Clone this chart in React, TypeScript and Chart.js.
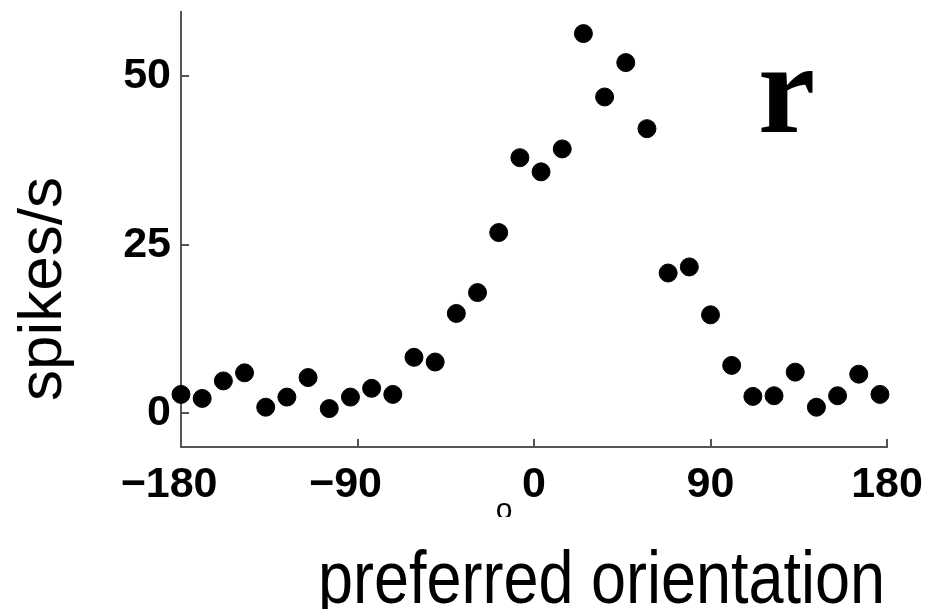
import React, { useEffect, useRef } from "react";
import { Chart, registerables } from "chart.js";

Chart.register(...registerables);

// ---- data ----
const orientations = [
  -180, -169.2, -158.4, -147.6, -136.8, -126, -115.2, -104.4, -93.6, -82.8,
  -72, -61.2, -50.4, -39.6, -28.8, -18, -7.2, 3.6, 14.4, 25.2,
  36, 46.8, 57.6, 68.4, 79.2, 90, 100.8, 111.6, 122.4, 133.2,
  144, 154.8, 165.6, 176.4,
];
const rates = [
  2.8, 2.2, 4.8, 6.0, 0.9, 2.4, 5.3, 0.7, 2.4, 3.7,
  2.8, 8.3, 7.6, 14.8, 17.9, 26.8, 37.9, 35.8, 39.2, 56.3,
  46.9, 52.0, 42.2, 20.8, 21.7, 14.6, 7.1, 2.5, 2.6, 6.1,
  0.9, 2.6, 5.8, 2.8,
];
const xTickValues = [-180, -90, 0, 90, 180];
const xTickLabels = ["\u2212180  ", "\u221290  ", "0", "90", "180"];
const yTickValues = [0, 25, 50];
const yTickLabels = ["0", "25", "50"];
const xTitle = "preferred orientation";
const yTitle = "spikes/s";
const panelLetter = "r";
const degreeMark = "o";

const AXIS_COLOR = "#555555";

const decorPlugin = {
  id: "decor",
  beforeDatasetsDraw(chart: any) {
    const { ctx, chartArea, scales } = chart;
    const x = scales.x;
    const y = scales.y;
    ctx.save();
    ctx.strokeStyle = AXIS_COLOR;
    ctx.lineWidth = 2;
    ctx.beginPath();
    xTickValues.forEach((v) => {
      const px = Math.round(x.getPixelForValue(v));
      ctx.moveTo(px, chartArea.bottom);
      ctx.lineTo(px, chartArea.bottom - 8);
    });
    yTickValues.forEach((v) => {
      const py = Math.round(y.getPixelForValue(v));
      ctx.moveTo(chartArea.left, py);
      ctx.lineTo(chartArea.left + 8, py);
    });
    ctx.stroke();
    ctx.restore();
  },
  afterDraw(chart: any) {
    const { ctx } = chart;
    ctx.save();
    ctx.fillStyle = "#000";

    // x title (condensed)
    ctx.font = "75px 'Liberation Sans', Arial, sans-serif";
    ctx.textBaseline = "alphabetic";
    ctx.textAlign = "left";
    const w = ctx.measureText(xTitle).width;
    const targetW = 567;
    ctx.save();
    ctx.translate(318, 603);
    ctx.scale(targetW / w, 1);
    ctx.fillText(xTitle, 0, 0);
    ctx.restore();

    // y title
    ctx.save();
    ctx.font = "62px 'Liberation Sans', Arial, sans-serif";
    ctx.translate(61, 289);
    ctx.rotate(-Math.PI / 2);
    ctx.textAlign = "center";
    ctx.textBaseline = "alphabetic";
    ctx.fillText(yTitle, 0, 0);
    ctx.restore();

    // panel letter
    ctx.font = "bold 129px 'Liberation Serif', 'Times New Roman', serif";
    ctx.textAlign = "left";
    ctx.textBaseline = "alphabetic";
    ctx.fillText(panelLetter, 758, 132);

    // degree mark (clipped)
    ctx.save();
    ctx.beginPath();
    ctx.rect(480, 490, 60, 27);
    ctx.clip();
    ctx.font = "30px 'Liberation Sans', Arial, sans-serif";
    ctx.textAlign = "center";
    ctx.fillText(degreeMark, 504, 519);
    ctx.restore();

    ctx.restore();
  },
};

export default function App() {
  const canvasRef = useRef<HTMLCanvasElement | null>(null);

  useEffect(() => {
    const canvas = canvasRef.current;
    if (!canvas) return;
    const tickFont = { family: "'Liberation Sans', Arial, sans-serif", size: 43, weight: "bold" as const };
    const chart = new Chart(canvas, {
      type: "scatter",
      data: {
        datasets: [
          {
            data: orientations.map((o, i) => ({ x: o, y: rates[i] })),
            backgroundColor: "#000",
            borderColor: "#000",
            pointRadius: 9,
            pointHoverRadius: 9,
            clip: false as any,
          },
        ],
      },
      options: {
        responsive: false,
        animation: false,
        devicePixelRatio: 1,
        layout: { padding: { top: 12, right: 48, left: 0, bottom: 0 } },
        plugins: {
          legend: { display: false },
          tooltip: { enabled: false },
          title: { display: false },
        },
        scales: {
          x: {
            type: "linear",
            min: -180,
            max: 180,
            afterBuildTicks: (scale: any) => {
              scale.ticks = xTickValues.map((v) => ({ value: v }));
            },
            afterFit: (scale: any) => {
              scale.height = 162;
              scale.paddingLeft = 0;
              scale.paddingRight = 0;
            },
            ticks: {
              autoSkip: false,
              maxRotation: 0,
              minRotation: 0,
              padding: 12,
              color: "#000",
              font: tickFont,
              callback: (v: any) => {
                const i = xTickValues.indexOf(Number(v));
                return i >= 0 ? xTickLabels[i] : "";
              },
            },
            grid: { display: false, drawTicks: false },
            border: { display: true, color: AXIS_COLOR, width: 2 },
          },
          y: {
            type: "linear",
            min: -5,
            max: 59.5,
            afterBuildTicks: (scale: any) => {
              scale.ticks = yTickValues.map((v) => ({ value: v }));
            },
            afterFit: (scale: any) => {
              scale.width = 181;
              scale.paddingTop = 0;
              scale.paddingBottom = 0;
            },
            ticks: {
              autoSkip: false,
              padding: 10,
              color: "#000",
              font: tickFont,
              callback: (v: any) => {
                const i = yTickValues.indexOf(Number(v));
                return i >= 0 ? yTickLabels[i] : "";
              },
            },
            grid: { display: false, drawTicks: false },
            border: { display: true, color: AXIS_COLOR, width: 2 },
          },
        },
      },
      plugins: [decorPlugin],
    });
    return () => chart.destroy();
  }, []);

  return (
    <div style={{ position: "absolute", left: 0, top: 0, width: 935, height: 609, background: "#fff" }}>
      <canvas ref={canvasRef} width={935} height={609} style={{ display: "block" }} />
    </div>
  );
}
